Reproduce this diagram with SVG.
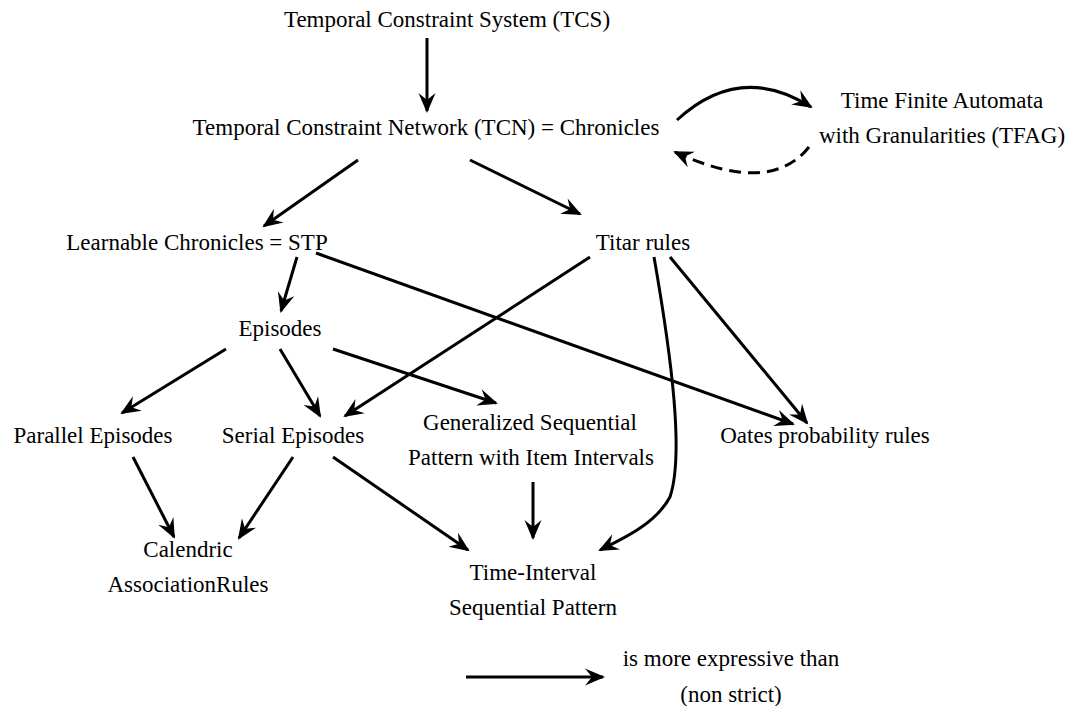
<svg xmlns="http://www.w3.org/2000/svg" width="1074" height="706" viewBox="0 0 1074 706">
<style>
text{font-family:"Liberation Serif","Times New Roman",serif;font-size:23px;fill:#000;text-anchor:middle}
.c{fill:none;stroke:#000;stroke-width:3}
.d{stroke-dasharray:12,7}
</style>
<defs>
<marker id="ah" markerUnits="userSpaceOnUse" markerWidth="26" markerHeight="22" viewBox="-22 -11 26 22" refX="0" refY="0" orient="auto">
<path d="M2,0 L-18,-8.5 L-11,0 L-18,8.5 Z" fill="#000"/>
</marker>
</defs>
<rect width="1074" height="706" fill="#fff"/>
<g id="connectors">
<path class="c" d="M427,38 L427,111" marker-end="url(#ah)"/>
<path class="c" d="M677,120 Q740,62 811,107" marker-end="url(#ah)"/>
<path class="c d" d="M809,147 Q770,196 675,152" marker-end="url(#ah)"/>
<path class="c" d="M358,160 L264,226" marker-end="url(#ah)"/>
<path class="c" d="M470,160 L580,214" marker-end="url(#ah)"/>
<path class="c" d="M297,257 L281,311" marker-end="url(#ah)"/>
<path class="c" d="M316,253 L793,424" marker-end="url(#ah)"/>
<path class="c" d="M590,257 L345,416" marker-end="url(#ah)"/>
<path class="c" d="M654,257 C672,360 684,455 670,497 C655,525 620,540 600,550" marker-end="url(#ah)"/>
<path class="c" d="M670,257 L807,423" marker-end="url(#ah)"/>
<path class="c" d="M226,349 L122,413" marker-end="url(#ah)"/>
<path class="c" d="M280,349 L320,416" marker-end="url(#ah)"/>
<path class="c" d="M333,349 L496,403" marker-end="url(#ah)"/>
<path class="c" d="M133,457 L174,537" marker-end="url(#ah)"/>
<path class="c" d="M293,457 L239,538" marker-end="url(#ah)"/>
<path class="c" d="M333,457 L468,550" marker-end="url(#ah)"/>
<path class="c" d="M533,482 L533,538" marker-end="url(#ah)"/>
</g>
<g id="tcs"><text x="447" y="27">Temporal Constraint System (TCS)</text></g>
<g id="tcn"><text x="426" y="135">Temporal Constraint Network (TCN) = Chronicles</text></g>
<g id="tfag"><text x="942" y="108">Time Finite Automata</text><text x="942" y="143">with Granularities (TFAG)</text></g>
<g id="stp"><text x="197" y="250">Learnable Chronicles = STP</text></g>
<g id="titar"><text x="643" y="250">Titar rules</text></g>
<g id="episodes"><text x="280" y="336">Episodes</text></g>
<g id="parallel"><text x="93" y="443">Parallel Episodes</text></g>
<g id="serial"><text x="293" y="443">Serial Episodes</text></g>
<g id="gsp"><text x="530" y="430">Generalized Sequential</text><text x="531" y="465">Pattern with Item Intervals</text></g>
<g id="oates"><text x="825" y="443">Oates probability rules</text></g>
<g id="calendric"><text x="188" y="557">Calendric</text><text x="188" y="592">AssociationRules</text></g>
<g id="tisp"><text x="533" y="580">Time-Interval</text><text x="533" y="615">Sequential Pattern</text></g>
<g id="legend">
<path class="c" d="M466,677 L603,677" marker-end="url(#ah)"/>
<text x="731" y="666">is more expressive than</text>
<text x="731" y="702">(non strict)</text>
</g>
</svg>
